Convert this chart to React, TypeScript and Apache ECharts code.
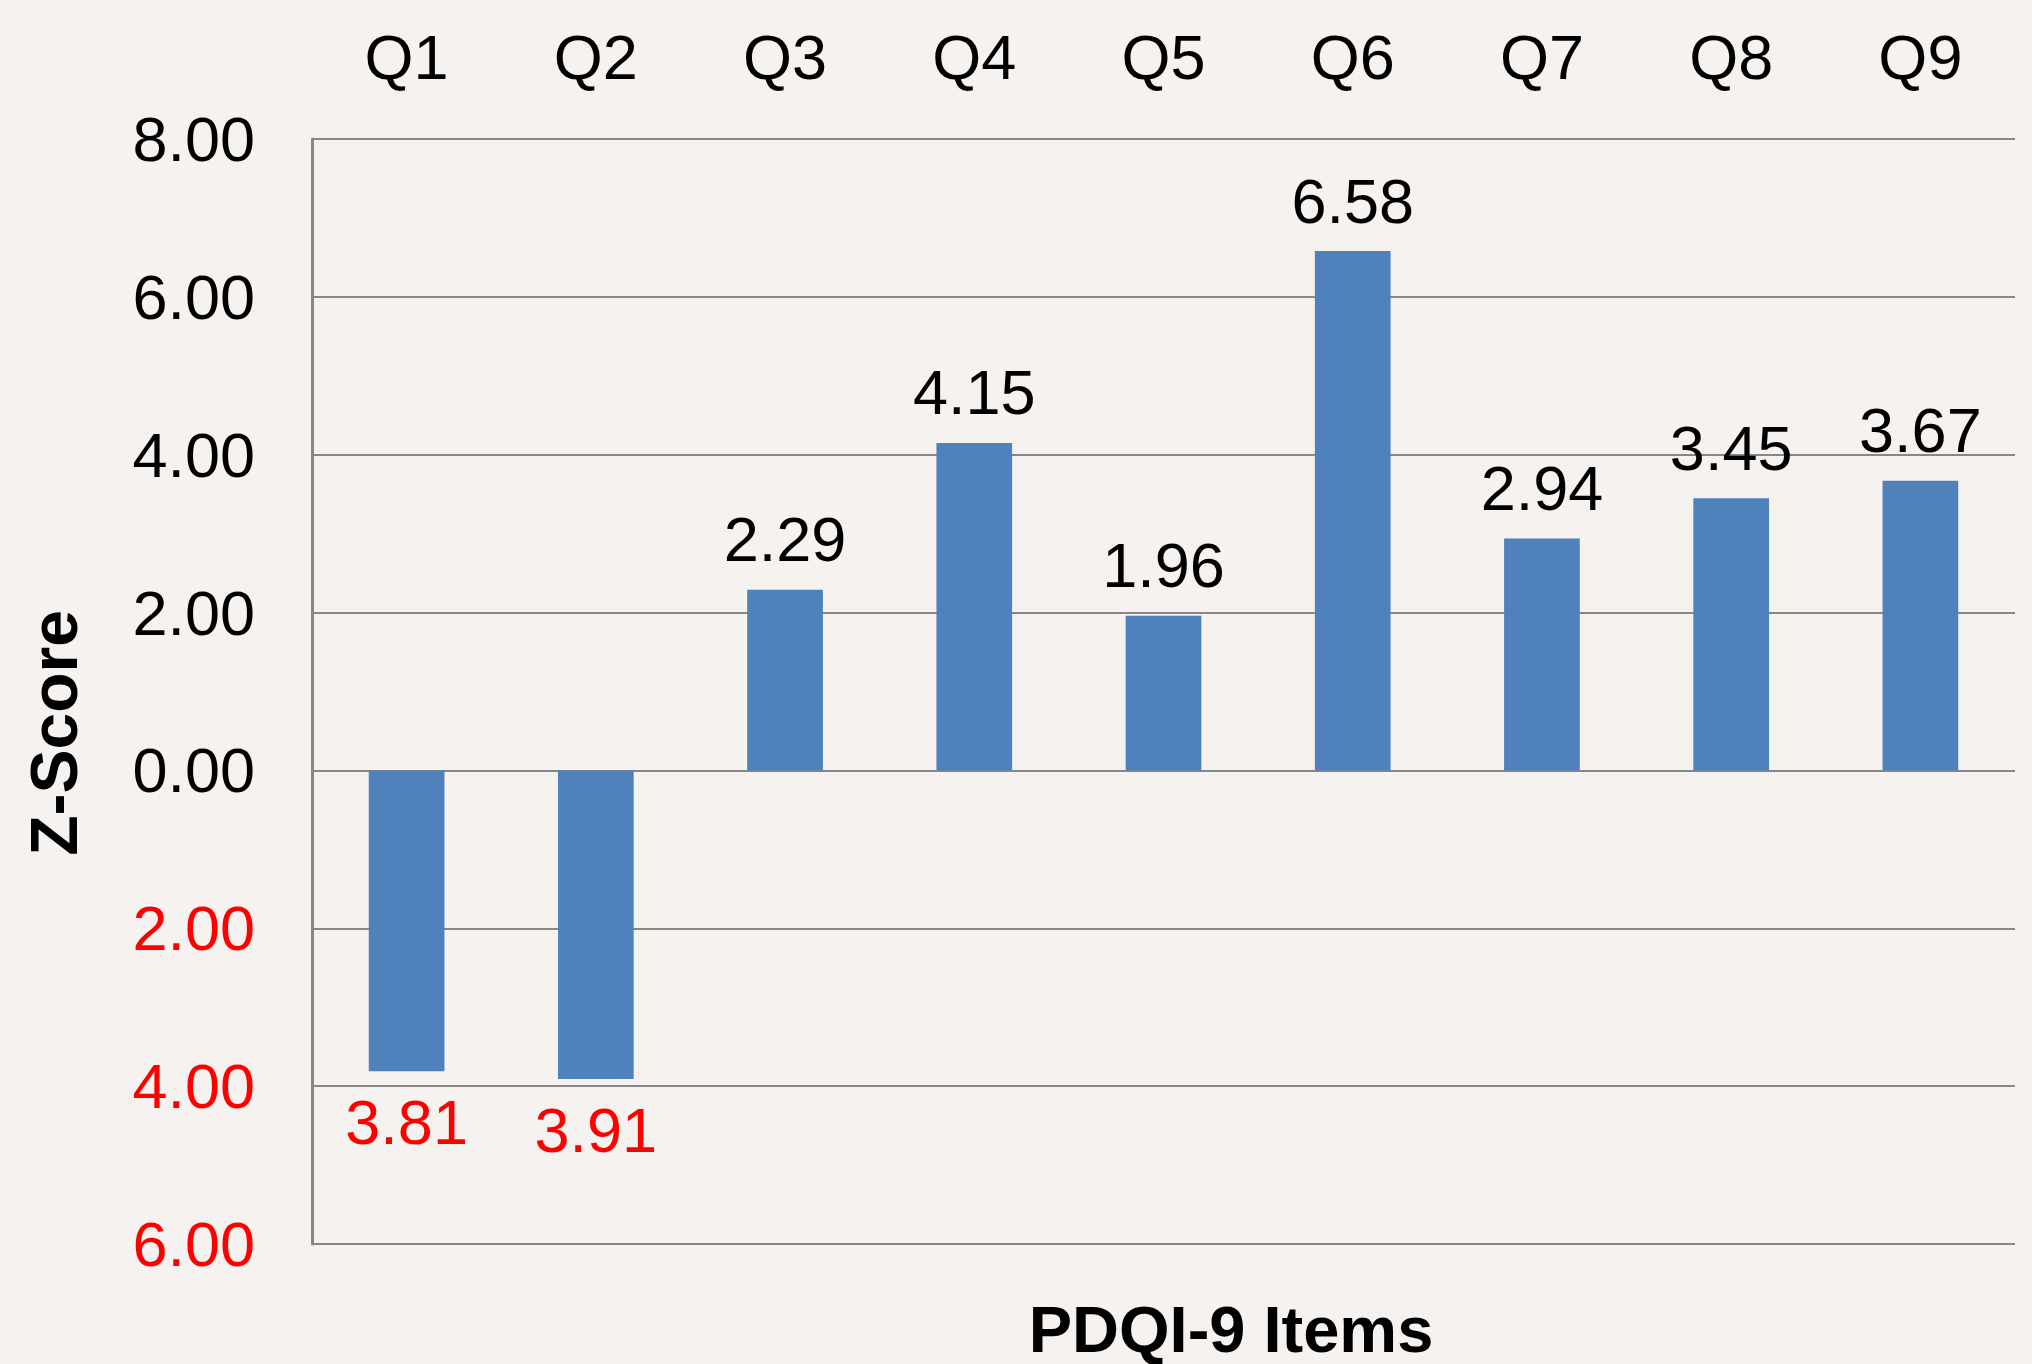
import React, { useEffect, useRef } from "react";
import * as echarts from "echarts";

const categories = ["Q1", "Q2", "Q3", "Q4", "Q5", "Q6", "Q7", "Q8", "Q9"];
const zScores = [-3.81, -3.91, 2.29, 4.15, 1.96, 6.58, 2.94, 3.45, 3.67];
const yTicks = { min: -6, max: 8, interval: 2 };
const yTitle = "Z-Score";
const xTitle = "PDQI-9 Items";

const FONT = "'Liberation Sans', Arial, sans-serif";
const BG = "#F5F2EF";
const GRID = "#878787";
const BAR = "#4F81BD";

export default function App() {
  const ref = useRef<HTMLDivElement>(null);
  useEffect(() => {
    document.body.style.margin = "0";
    document.body.style.background = BG;
    const chart = echarts.init(ref.current!, undefined, { renderer: "svg" });
    chart.setOption({
      animation: false,
      backgroundColor: BG,
      textStyle: { fontFamily: FONT },
      grid: { left: 312, right: 17, top: 139, bottom: 120, containLabel: false },
      xAxis: {
        type: "category",
        position: "top",
        data: categories,
        axisLine: { show: false },
        axisTick: { show: false },
        axisLabel: { fontSize: 63, color: "#000", margin: 51, fontFamily: FONT },
      },
      yAxis: {
        type: "value",
        min: yTicks.min,
        max: yTicks.max,
        interval: yTicks.interval,
        axisLine: { show: true, lineStyle: { color: GRID, width: 3 } },
        axisTick: { show: false },
        splitLine: { show: true, lineStyle: { color: GRID, width: 2 } },
        axisLabel: {
          fontSize: 63,
          margin: 57,
          fontFamily: FONT,
          formatter: (v: number) => Math.abs(v).toFixed(2),
          color: (v: any) => (Number(v) < 0 ? "#FF0000" : "#000000"),
        },
      },
      series: [
        {
          type: "bar",
          barWidth: "40%",
          itemStyle: { color: BAR },
          data: zScores.map((v) => ({
            value: v,
            label: {
              show: true,
              position: v < 0 ? "bottom" : "top",
              distance: 19,
              fontSize: 63,
              fontFamily: FONT,
              color: v < 0 ? "#FF0000" : "#000000",
              formatter: () => Math.abs(v).toFixed(2),
            },
          })),
        },
      ],
      graphic: [
        {
          type: "text",
          x: 54,
          y: 733,
          rotation: Math.PI / 2,
          style: {
            text: yTitle,
            fontSize: 66,
            fontWeight: "bold",
            fontFamily: FONT,
            fill: "#000",
            align: "center",
            verticalAlign: "middle",
          },
        },
        {
          type: "text",
          x: 1231,
          y: 1329,
          style: {
            text: xTitle,
            fontSize: 65,
            fontWeight: "bold",
            fontFamily: FONT,
            fill: "#000",
            align: "center",
            verticalAlign: "middle",
          },
        },
      ],
    });
    return () => chart.dispose();
  }, []);
  return <div ref={ref} style={{ width: 2032, height: 1364 }} />;
}
